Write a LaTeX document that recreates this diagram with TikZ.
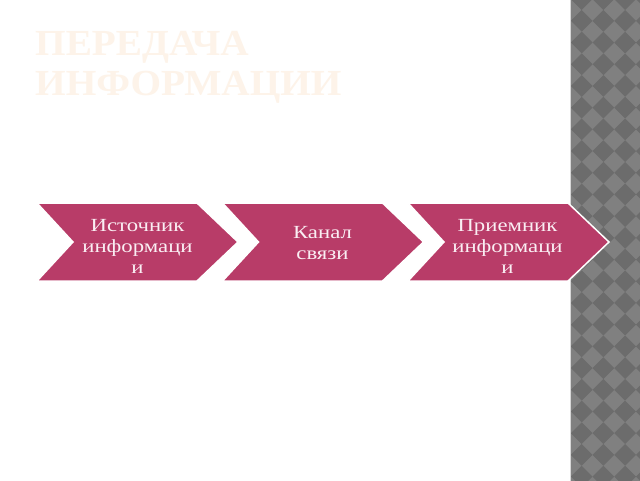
\documentclass[tikz,border=0pt]{standalone}
\usepackage{fontspec}
\newfontfamily\chevfont{Liberation Serif}[FakeStretch=1.23]
\newfontfamily\titlefont{Liberation Serif}[FakeStretch=1.07]
\definecolor{chevfill}{RGB}{184,60,104}
\definecolor{chevtxt}{RGB}{250,238,243}
\definecolor{titlecol}{RGB}{253,243,233}
\definecolor{stripdark}{RGB}{108,108,108}
\definecolor{striplight}{RGB}{128,128,128}
\definecolor{stripline}{RGB}{215,215,215}
\tikzset{
  chev/.style={fill=chevfill, draw=white, line width=1.5pt, line join=miter},
  chevtext/.style={text=chevtxt, align=center, inner sep=0pt,
    font=\chevfont\fontsize{18.5}{21}\selectfont},
  titletext/.style={text=titlecol, inner sep=0pt, anchor=base west,
    font=\titlefont\bfseries\fontsize{36.7}{40}\selectfont},
}
\begin{document}
\begin{tikzpicture}[x=1pt,y=-1pt]
\useasboundingbox (0,0) rectangle (640,480);
\fill[white] (0,0) rectangle (640,480);
% decorative strip
\begin{scope}
\clip (571,-2) rectangle (642,482);
\fill[striplight] (571,-2) rectangle (642,482);
\foreach \k in {-1,...,3} {
  \foreach \m in {-1,...,23} {
    \fill[stripdark] ({581.7+21.7*\k},{10+21.7*\m}) -- ++(10.85,10.85) -- ++(-10.85,10.85) -- ++(-10.85,-10.85) -- cycle;
  }
}
\end{scope}
\draw[stripline, line width=1.4pt] (570.7,-2) -- (570.7,482);
% title
\node[titletext] (title1) at (35,55) {ПЕРЕДАЧА};
\node[titletext] (title2) at (35,95) {ИНФОРМАЦИИ};
% chevrons
\foreach \x in {37,222.5,408} {
  \path[chev] (\x,203) -- ++(160,0) -- ++(41,39) -- ++(-41,39) -- ++(-160,0) -- ++(36,-39) -- cycle;
}
\node[chevtext] (t1) at (137.5,246) {Источник\\информаци\\и};
\node[chevtext] (t2) at (322.5,243) {Канал\\связи};
\node[chevtext] (t3) at (507.5,246) {Приемник\\информаци\\и};
\end{tikzpicture}
\end{document}
